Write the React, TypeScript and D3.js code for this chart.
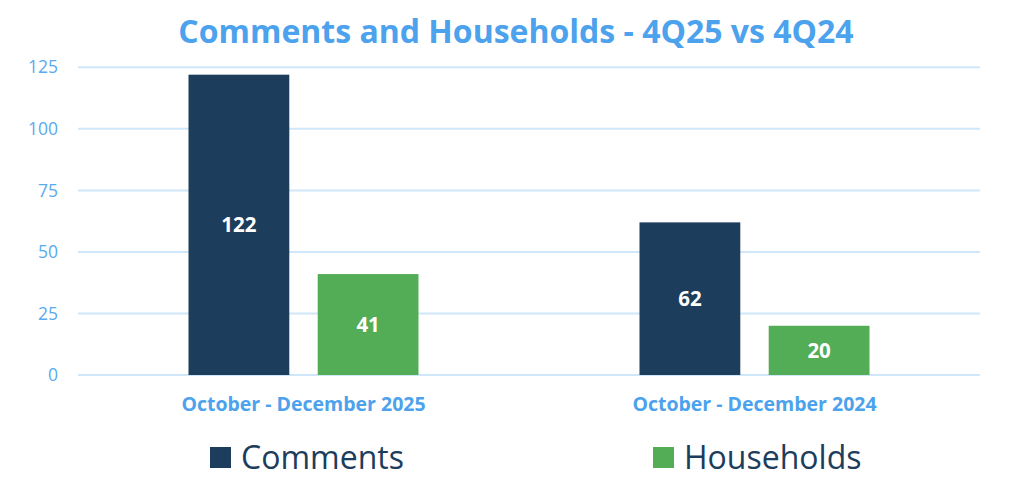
import React from "react";
import * as d3 from "d3";

const categories = ["October - December 2025", "October - December 2024"];
const seriesNames = ["Comments", "Households"];
const comments = [122, 62];
const households = [41, 20];
const yTicks = [0, 25, 50, 75, 100, 125];

const W = 1024;
const H = 493;
const colors = ["#1C3D5B", "#53AC56"];
const blue = "#4CA2EC";

export default function App() {
  const left = 78, right = 980, top = 67.3, bottom = 375;
  const x0 = d3.scaleBand<string>().domain(categories).range([left, right]).paddingInner(0).paddingOuter(0);
  const x1 = d3.scaleBand<string>().domain(seriesNames).range([110.5, x0.bandwidth() - 110.5]).paddingInner(0.22).paddingOuter(0);
  const y = d3.scaleLinear().domain([0, 125]).range([bottom, top]);
  const values = [comments, households];

  return (
    <svg width={W} height={H} style={{ position: "absolute", left: 0, top: 0, fontFamily: "'Open Sans', sans-serif" }}>
      <rect width={W} height={H} fill="#fff" />
      <text x={516} y={43} textAnchor="middle" fontSize={32} fontWeight={700} fill={blue}>
        Comments and Households - 4Q25 vs 4Q24
      </text>
      {yTicks.map((t) => (
        <g key={t}>
          <line x1={left} x2={right} y1={y(t)} y2={y(t)} stroke="#CFE7F8" strokeWidth={2} />
          <text x={58} y={y(t)} dy="0.35em" textAnchor="end" fontSize={17.5} fill="#5AAAEE">{t}</text>
        </g>
      ))}
      {categories.map((c, ci) => (
        <g key={c} transform={`translate(${x0(c)},0)`}>
          {seriesNames.map((s, si) => {
            const v = values[si][ci];
            const bx = x1(s)!;
            const bw = x1.bandwidth();
            return (
              <g key={s}>
                <rect x={bx} y={y(v)} width={bw} height={y(0) - y(v)} fill={colors[si]} />
                <text x={bx + bw / 2} y={(y(v) + y(0)) / 2} dy="0.35em" textAnchor="middle" fontSize={20.5} fontWeight={700} fill="#fff">{v}</text>
              </g>
            );
          })}
          <text x={x0.bandwidth() / 2} y={411} textAnchor="middle" fontSize={19.5} fontWeight={700} fill={blue}>{c}</text>
        </g>
      ))}
      {seriesNames.map((s, si) => {
        const lx = [210, 653][si];
        return (
          <g key={s}>
            <rect x={lx} y={447} width={21} height={21} fill={colors[si]} />
            <text x={lx + 31} y={468.5} fontSize={32} fill="#1C3D5B">{s}</text>
          </g>
        );
      })}
    </svg>
  );
}
